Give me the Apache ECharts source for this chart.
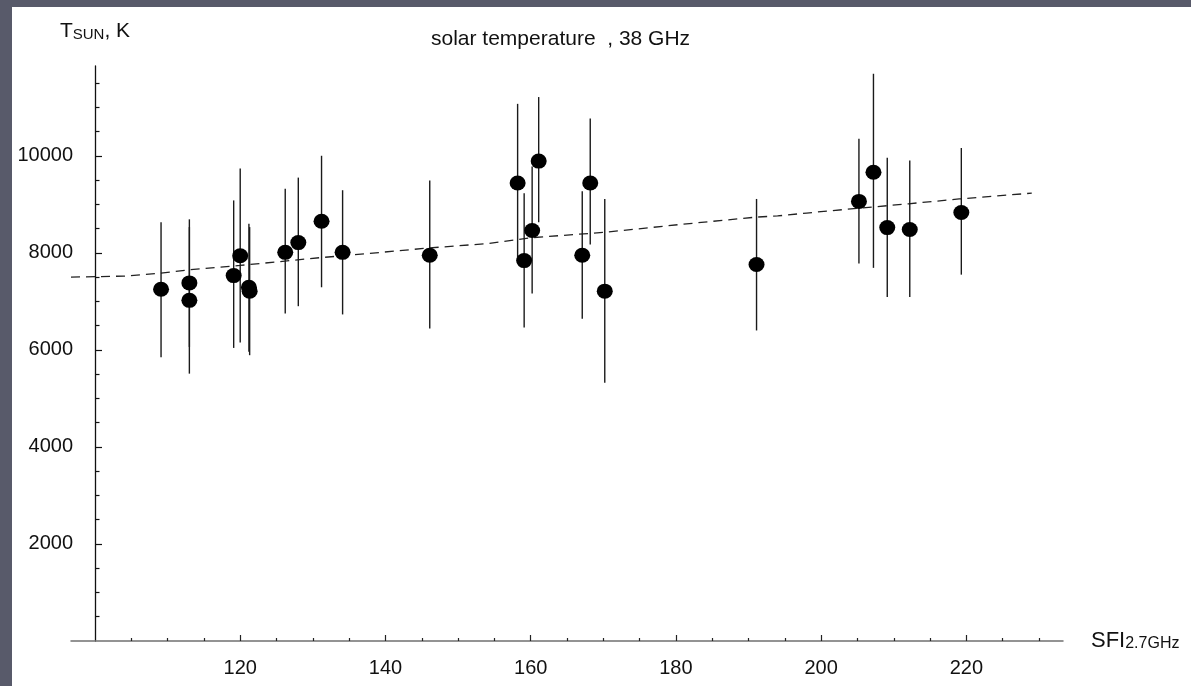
<!DOCTYPE html>
<html>
<head>
<meta charset="utf-8">
<script src="https://cdn.jsdelivr.net/npm/echarts@6/dist/echarts.min.js"></script>
<style>
html, body { margin: 0; padding: 0; background: #585a6a; }
#paper { position: absolute; left: 12px; top: 7px; right: 0; bottom: 0; background: #fff; }
#main { position: absolute; left: 0; top: 0; width: 1191px; height: 686px; }
</style>
</head>
<body>
<div id="paper"></div>
<div id="main"></div>
<script>
// measured points: SFI (2.7 GHz) and solar brightness temperature at 38 GHz
var sfi     = [109.1, 113.0, 113.0, 119.1, 120.0, 121.2, 121.3, 126.2, 128.0, 131.2, 134.1, 146.1,
               158.2, 159.1, 160.2, 161.1, 167.1, 168.2, 170.2, 191.1, 205.2, 207.2, 209.1, 212.2, 219.3];
var tsun    = [7250, 7380, 7020, 7530, 7940, 7290, 7210, 8010, 8210, 8650, 8010, 7950,
               9440, 7840, 8460, 9890, 7950, 9440, 7210, 7760, 9060, 9660, 8520, 8480, 8830];
var errLow  = [5850, 6060, 5510, 6040, 6150, 5960, 5890, 6750, 6900, 7290, 6730, 6440,
               7910, 6460, 7160, 8630, 6640, 8170, 5320, 6400, 7780, 7690, 7090, 7090, 7550];
var errHigh = [8630, 8690, 8530, 9080, 9740, 8600, 8530, 9320, 9550, 10000, 9290, 9490,
               11070, 9230, 9780, 11210, 9270, 10770, 9110, 9110, 10350, 11690, 9960, 9900, 10160];

// dashed trend line
var fitSfi  = [96.7, 104, 109, 113, 120, 131, 135, 146, 154, 160, 170, 181, 191, 194, 198, 203, 212, 219, 229];
var fitTsun = [7500, 7520, 7580, 7650, 7740, 7900, 7950, 8100, 8190, 8310, 8420, 8590, 8735, 8760, 8820, 8890, 9010, 9110, 9230];

// ticks
var xMajor = [120, 140, 160, 180, 200, 220];
var xMinor = [105, 110, 115, 125, 130, 135, 145, 150, 155, 165, 170, 175, 185, 190, 195, 205, 210, 215, 225, 230];
var yMajor = [2000, 4000, 6000, 8000, 10000];
var yMinor = [500, 1000, 1500, 2500, 3000, 3500, 4500, 5000, 5500, 6500, 7000, 7500,
              8500, 9000, 9500, 10500, 11000, 11500];

var font = 'Liberation Sans, Arial, sans-serif';

var points = [];
var bars = [];
for (var i = 0; i < sfi.length; i++) {
    points.push([sfi[i], tsun[i]]);
    bars.push([sfi[i], errLow[i], errHigh[i]]);
}
var fit = [];
for (var j = 0; j < fitSfi.length; j++) {
    fit.push([fitSfi[j], fitTsun[j]]);
}

var myChart = echarts.init(document.getElementById('main'));
var option = {
    animation: false,
    title: {
        text: 'solar temperature  , 38 GHz',
        left: 431,
        top: 29,
        padding: 0,
        textStyle: { fontFamily: font, fontSize: 21, fontWeight: 'normal', color: '#111' }
    },
    grid: { left: 71, top: 66, width: 992, height: 575, containLabel: false },
    xAxis: [{
        type: 'value',
        min: 96.7,
        max: 233.3,
        position: 'bottom',
        name: 'SFI{sub|2.7GHz}',
        nameLocation: 'end',
        nameGap: 28,
        nameTextStyle: {
            fontFamily: font, fontSize: 22, color: '#111',
            rich: { sub: { fontFamily: font, fontSize: 16, color: '#111', verticalAlign: 'bottom', lineHeight: 8 } }
        },
        axisLine: { onZero: false, lineStyle: { color: '#707070', width: 1.5 } },
        axisTick: { inside: true, length: 6, customValues: xMajor, lineStyle: { color: '#222', width: 1.2 } },
        axisLabel: { customValues: xMajor, margin: 17, fontFamily: font, fontSize: 20, color: '#111' },
        splitLine: { show: false }
    }, {
        type: 'value',
        min: 96.7,
        max: 233.3,
        position: 'bottom',
        axisLine: { show: false, onZero: false },
        axisTick: { inside: true, length: 3, customValues: xMinor, lineStyle: { color: '#222', width: 1.2 } },
        axisLabel: { show: false },
        splitLine: { show: false }
    }],
    yAxis: [{
        type: 'value',
        min: 0,
        max: 11850,
        position: 'left',
        offset: -24,
        name: 'T{sub|SUN}, K',
        nameLocation: 'end',
        nameGap: 24,
        nameTextStyle: {
            fontFamily: font, fontSize: 21, color: '#111',
            rich: { sub: { fontFamily: font, fontSize: 15, color: '#111', verticalAlign: 'bottom', lineHeight: 7 } }
        },
        axisLine: { show: true, onZero: false, lineStyle: { color: '#111', width: 1.3 } },
        axisTick: { inside: true, length: 7, customValues: yMajor, lineStyle: { color: '#111', width: 1.2 } },
        axisLabel: {
            customValues: yMajor, margin: 22, fontFamily: font, fontSize: 20, color: '#111',
            formatter: function (v) { return String(v); }
        },
        splitLine: { show: false }
    }, {
        type: 'value',
        min: 0,
        max: 11850,
        position: 'left',
        offset: -24,
        axisLine: { show: false, onZero: false },
        axisTick: { inside: true, length: 4.5, customValues: yMinor, lineStyle: { color: '#111', width: 1.2 } },
        axisLabel: { show: false },
        splitLine: { show: false }
    }],
    series: [{
        type: 'line',
        data: fit,
        showSymbol: false,
        symbol: 'none',
        lineStyle: { color: '#222', width: 1.3, type: [9, 6] },
        z: 1
    }, {
        type: 'custom',
        data: bars,
        encode: { x: 0, y: [1, 2] },
        renderItem: function (params, api) {
            var lo = api.coord([api.value(0), api.value(1)]);
            var hi = api.coord([api.value(0), api.value(2)]);
            return {
                type: 'line',
                shape: { x1: lo[0], y1: lo[1], x2: hi[0], y2: hi[1] },
                style: { stroke: '#1a1a1a', lineWidth: 1.4 }
            };
        },
        z: 2
    }, {
        type: 'scatter',
        data: points,
        symbol: 'circle',
        symbolSize: [16, 15],
        itemStyle: { color: '#000', opacity: 1 },
        z: 3
    }]
};
myChart.setOption(option);
</script>
</body>
</html>
